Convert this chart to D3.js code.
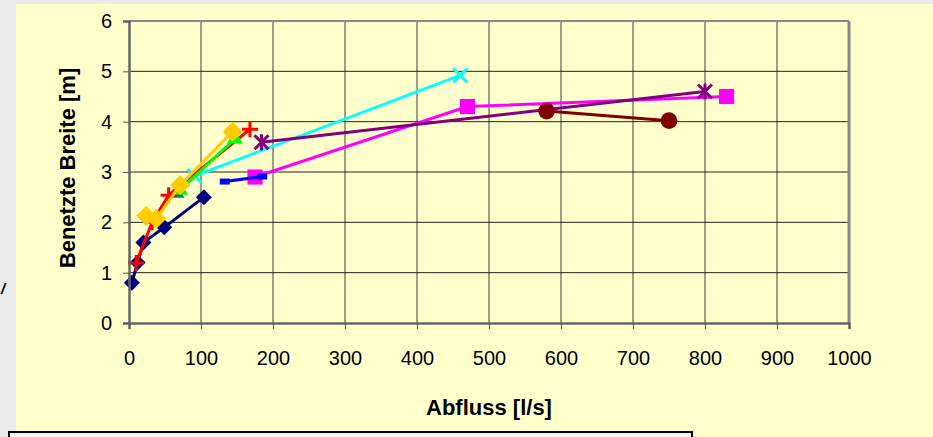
<!DOCTYPE html>
<html>
<head>
<meta charset="utf-8">
<script src="https://d3js.org/d3.v7.min.js"></script>
<style>
body { margin: 0; background-color: #eaeaea; overflow: hidden; }
text { font-family: "Liberation Sans", Arial, sans-serif; }
</style>
</head>
<body>
<svg width="933" height="437" id="vis"></svg>
<script>
// Abfluss [l/s] and benetzte Breite [m], one pair of arrays per series
var qNavy = [4, 12, 20, 49, 104],       bNavy = [0.8, 1.2, 1.6, 1.9, 2.5];
var qMagenta = [175, 470, 830],         bMagenta = [2.9, 4.3, 4.5];
var qCyan = [91, 460],                  bCyan = [2.92, 4.92];
var qPurple = [184, 800],               bPurple = [3.59, 4.6];
var qDarkred = [580, 750],              bDarkred = [4.21, 4.02];
var qTeal = [66],                       bTeal = [2.58];
var qBlue = [133, 185],                 bBlue = [2.81, 2.91];
var qRed = [10, 32, 55, 168],           bRed = [1.19, 2.0, 2.54, 3.85];
var qGreen = [71, 147],                 bGreen = [2.64, 3.66];
var qGold = [24, 38, 71, 144],          bGold = [2.13, 2.07, 2.74, 3.8];

var xTicks = [0, 100, 200, 300, 400, 500, 600, 700, 800, 900, 1000];
var yTicks = [0, 1, 2, 3, 4, 5, 6];

var series = [
  {q: qNavy, b: bNavy, color: "#000080", marker: "diamond"},
  {q: qMagenta, b: bMagenta, color: "#ff00ff", marker: "square"},
  {q: qCyan, b: bCyan, color: "#00ffff", marker: "x"},
  {q: qPurple, b: bPurple, color: "#800080", marker: "star"},
  {q: qDarkred, b: bDarkred, color: "#800000", marker: "circle"},
  {q: qTeal, b: bTeal, color: "#008080", marker: "triangle"},
  {q: qBlue, b: bBlue, color: "#0000ff", marker: "dash"},
  {q: qRed, b: bRed, color: "#ff0000", marker: "plus"},
  {q: qGreen, b: bGreen, color: "#00ff00", marker: "triangle"},
  {q: qGold, b: bGold, color: "#ffcc00", marker: "bigdiamond"}
];

var svg = d3.select("#vis");

// chart area
svg.append("rect").attr("x", 16).attr("y", 4).attr("width", 917).attr("height", 433)
  .attr("fill", "#ffffcc");

var x = d3.scaleLinear().domain([0, 1000]).range([129, 849]);
var y = d3.scaleLinear().domain([0, 6]).range([323, 21]);

var g = svg.append("g");

// grid
g.selectAll("line.vg").data(xTicks.slice(1, -1)).enter().append("line")
  .attr("x1", function(d) { return x(d); }).attr("x2", function(d) { return x(d); })
  .attr("y1", y(6)).attr("y2", y(0))
  .attr("stroke", "#3a3a3a").attr("stroke-width", 1);
g.selectAll("line.hg").data(yTicks.slice(1, -1)).enter().append("line")
  .attr("y1", function(d) { return y(d); }).attr("y2", function(d) { return y(d); })
  .attr("x1", x(0)).attr("x2", x(1000))
  .attr("stroke", "#222").attr("stroke-width", 1);

// plot border
g.append("line").attr("x1", x(0)).attr("x2", x(1000)).attr("y1", y(6)).attr("y2", y(6))
  .attr("stroke", "#888").attr("stroke-width", 2);
g.append("line").attr("x1", x(1000)).attr("x2", x(1000)).attr("y1", y(6)).attr("y2", y(0))
  .attr("stroke", "#888").attr("stroke-width", 3);

// axes
var xAxis = d3.axisBottom(x).tickValues(xTicks).tickFormat(d3.format("d")).tickSize(6).tickPadding(22);
var yAxis = d3.axisLeft(y).tickValues(yTicks).tickFormat(d3.format("d")).tickSize(6).tickPadding(11);

var gx = svg.append("g").attr("transform", "translate(0," + y(0) + ")").call(xAxis);
var gy = svg.append("g").attr("transform", "translate(" + x(0) + ",0)").call(yAxis);
[gx, gy].forEach(function(a) {
  a.attr("font-size", 20).attr("font-family", "'Liberation Sans', Arial, sans-serif");
  a.select(".domain").attr("stroke", "#666").attr("stroke-width", 2.5);
  a.selectAll(".tick line").attr("stroke", "#555");
  a.selectAll(".tick text").attr("fill", "#000");
});

// axis titles
svg.append("text").text("Abfluss [l/s]")
  .attr("x", 489).attr("y", 415).attr("text-anchor", "middle")
  .attr("font-size", "22px").attr("font-weight", "bold");
svg.append("text").text("Benetzte Breite [m]")
  .attr("transform", "translate(75,168) rotate(-90)").attr("text-anchor", "middle")
  .attr("font-size", "22px").attr("font-weight", "bold");

// small italic mark at the left edge
svg.append("text").text("/").attr("x", 1).attr("y", 294)
  .attr("font-size", "15px").attr("font-weight", "bold").attr("font-style", "italic");

// legend box (cut off by the bottom of the window)
svg.append("rect").attr("x", 9).attr("y", 432).attr("width", 683).attr("height", 20)
  .attr("fill", "#f4f4f4").attr("stroke", "#000").attr("stroke-width", 2);

// series
function markerPath(type) {
  if (type === "diamond") return "M0,-8L8,0L0,8L-8,0Z";
  if (type === "bigdiamond") return "M0,-10L10,0L0,10L-10,0Z";
  if (type === "square") return d3.symbol(d3.symbolSquare, 230)();
  if (type === "circle") return d3.symbol(d3.symbolCircle, 220)();
  if (type === "triangle") return d3.symbol(d3.symbolTriangle, 110)();
  if (type === "x") return "M-7,-7L7,7M7,-7L-7,7";
  if (type === "plus") return "M-8,0L8,0M0,-8L0,8";
  if (type === "star") return "M-7,-7L7,7M7,-7L-7,7M0,-8L0,8";
  if (type === "dash") return "M-5,-3L5,-3L5,3L-5,3Z";
}
var stroked = {x: 1, plus: 1, star: 1};

var line = d3.line()
  .x(function(d) { return x(d[0]); })
  .y(function(d) { return y(d[1]); });

series.forEach(function(s) {
  var pts = s.q.map(function(q, i) { return [q, s.b[i]]; });
  var sg = g.append("g");
  if (pts.length > 1) {
    sg.append("path").datum(pts).attr("d", line)
      .attr("fill", "none").attr("stroke", s.color).attr("stroke-width", 3);
  }
  sg.selectAll("path.m").data(pts).enter().append("path")
    .attr("class", "m")
    .attr("transform", function(d) { return "translate(" + x(d[0]) + "," + y(d[1]) + ")"; })
    .attr("d", markerPath(s.marker))
    .attr("fill", stroked[s.marker] ? "none" : s.color)
    .attr("stroke", stroked[s.marker] ? s.color : "none")
    .attr("stroke-width", 3);
});
</script>
</body>
</html>
